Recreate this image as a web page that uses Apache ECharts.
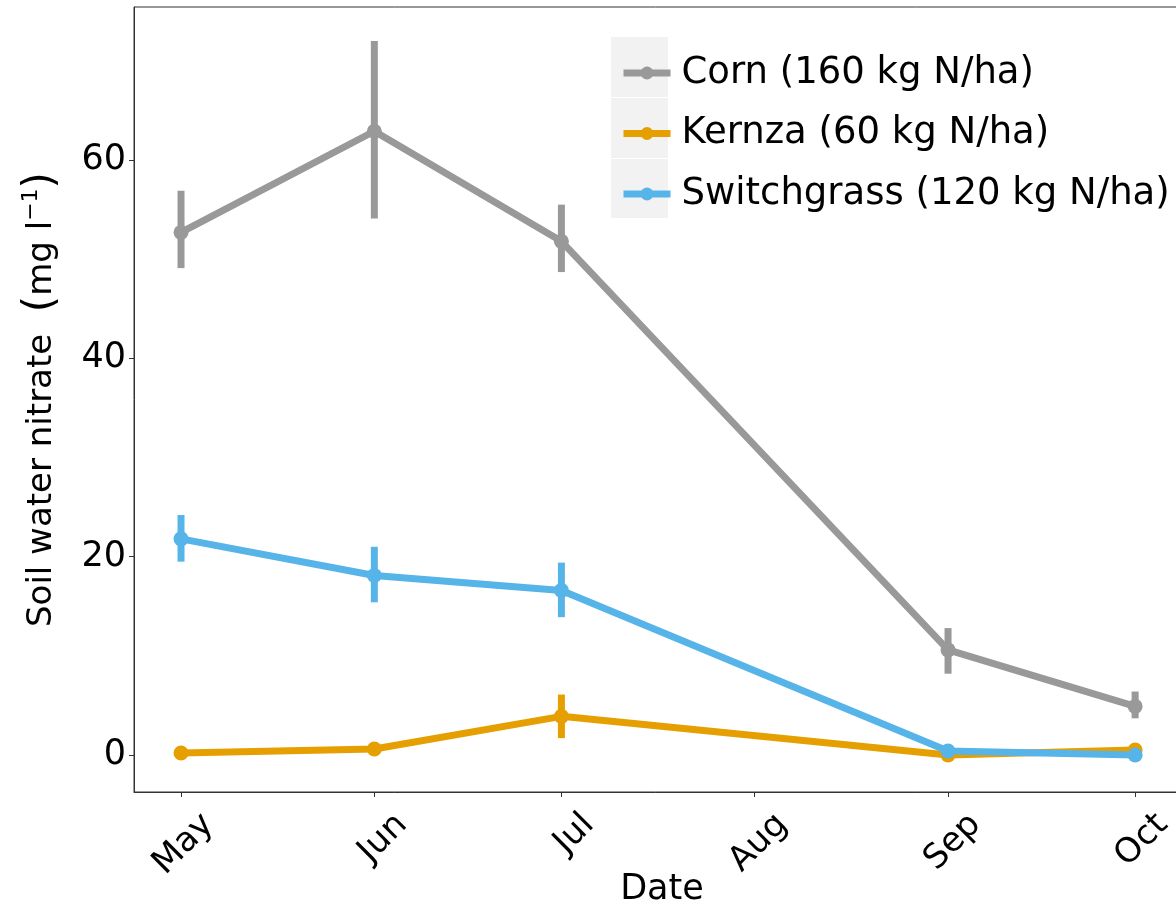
<!DOCTYPE html>
<html>
<head>
<meta charset="utf-8">
<script src="https://cdn.jsdelivr.net/npm/echarts@6/dist/echarts.min.js"></script>
<style>
  html, body { margin: 0; padding: 0; background: #fff; }
  #chart { width: 1176px; height: 911px; }
</style>
</head>
<body>
<div id="chart"></div>
<script>
// ---- data (day of year; 1st of each month) ----
const tickDays = [121, 152, 182, 213, 244, 274];
const tickLabels = ['May', 'Jun', 'Jul', 'Aug', 'Sep', 'Oct'];
const sampleDays = [121, 152, 182, 244, 274];
const yTicks = [0, 20, 40, 60];

const seriesNames = ['Corn (160 kg N/ha)', 'Kernza (60 kg N/ha)', 'Switchgrass (120 kg N/ha)'];

const cornMean = [52.7, 62.9, 51.8, 10.6, 4.9];
const cornLow  = [49.1, 54.1, 48.7, 8.2, 3.7];
const cornHigh = [56.9, 72.0, 55.5, 12.8, 6.4];

const kernzaMean = [0.2, 0.6, 3.9, 0.0, 0.5];
const kernzaLow  = [0.0, 0.3, 1.7, -0.2, 0.3];
const kernzaHigh = [0.4, 0.9, 6.1, 0.2, 0.7];

const switchMean = [21.8, 18.1, 16.6, 0.4, 0.0];
const switchLow  = [19.5, 15.4, 13.9, 0.2, -0.2];
const switchHigh = [24.2, 21.0, 19.4, 0.6, 0.2];

const colors = ['#999999', '#E69F00', '#56B4E9'];

const FONT = 'DejaVu Sans';

function lineSeries(name, mean, color) {
  return {
    name: name,
    type: 'line',
    data: sampleDays.map((d, i) => [d, mean[i]]),
    symbol: 'circle',
    symbolSize: 15,
    itemStyle: { color: color },
    lineStyle: { color: color, width: 7 },
    emphasis: { disabled: true },
    animation: false
  };
}

function errSeries(name, low, high, color) {
  return {
    name: name + ' SE',
    type: 'custom',
    data: sampleDays.map((d, i) => [d, low[i], high[i]]),
    encode: { x: 0, y: [1, 2] },
    renderItem: function (params, api) {
      const x = api.value(0);
      const p1 = api.coord([x, api.value(1)]);
      const p2 = api.coord([x, api.value(2)]);
      return {
        type: 'line',
        shape: { x1: p1[0], y1: p1[1], x2: p2[0], y2: p2[1] },
        style: { stroke: color, lineWidth: 7 }
      };
    },
    animation: false
  };
}

const chart = echarts.init(document.getElementById('chart'), null, { renderer: 'canvas' });

const option = {
  backgroundColor: '#ffffff',
  animation: false,
  textStyle: { fontFamily: FONT },
  grid: {
    left: 134, top: 7, right: -14, bottom: 119,
    containLabel: false,
    outerBoundsMode: 'none',
    show: true, borderColor: '#333333', borderWidth: 1, backgroundColor: 'transparent'
  },
  graphic: [
    { type: 'rect', shape: { x: 611, y: 37, width: 57, height: 60 }, style: { fill: '#f2f2f2' }, z: 1 },
    { type: 'rect', shape: { x: 611, y: 98, width: 57, height: 60 }, style: { fill: '#f2f2f2' }, z: 1 },
    { type: 'rect', shape: { x: 611, y: 159, width: 57, height: 59 }, style: { fill: '#f2f2f2' }, z: 1 }
  ],
  legend: {
    data: seriesNames,
    orient: 'vertical',
    left: 615,
    top: 47,
    itemWidth: 47,
    itemHeight: 16,
    itemGap: 18.5,
    selectedMode: false,
    lineStyle: { width: 7 },
    textStyle: { fontFamily: FONT, fontSize: 37, color: '#000', lineHeight: 42, padding: [0, 0, 0, 6] }
  },
  xAxis: {
    type: 'value',
    min: 113.46,
    max: 282.8,
    name: 'Date',
    nameLocation: 'middle',
    nameGap: 80,
    nameMoveOverlap: false,
    nameTextStyle: { fontFamily: FONT, fontSize: 35, color: '#000' },
    axisLine: { show: true, onZero: false, lineStyle: { color: '#333333', width: 1 } },
    axisTick: { show: true, length: 5, customValues: tickDays, lineStyle: { color: '#333333' } },
    axisLabel: {
      customValues: tickDays,
      formatter: function (v) { const i = tickDays.indexOf(v); return i >= 0 ? tickLabels[i] : ''; },
      rotate: 45,
      margin: 0,
      verticalAlign: 'top',
      lineHeight: 78,
      fontFamily: FONT,
      fontSize: 34,
      color: '#000'
    },
    splitLine: { show: false }
  },
  yAxis: {
    type: 'value',
    min: -3.73,
    max: 75.43,
    name: '{a|Soil water nitrate  }{p|(}{a|mg l}{s|−1}{p|)}',
    nameLocation: 'middle',
    nameGap: 70,
    nameRotate: 90,
    nameMoveOverlap: false,
    nameTextStyle: {
      fontFamily: FONT, color: '#000',
      rich: {
        a: { fontFamily: FONT, fontSize: 34, lineHeight: 44, color: '#000' },
        p: { fontFamily: FONT, fontSize: 42, lineHeight: 44, color: '#000' },
        s: { fontFamily: FONT, fontSize: 22, lineHeight: 22, verticalAlign: 'top', color: '#000' }
      }
    },
    axisLine: { show: true, onZero: false, lineStyle: { color: '#333333', width: 1 } },
    axisTick: { show: true, length: 5, customValues: yTicks, lineStyle: { color: '#333333' } },
    axisLabel: {
      customValues: yTicks,
      margin: 8,
      fontFamily: FONT,
      fontSize: 35,
      color: '#000'
    },
    splitLine: { show: false }
  },
  series: [
    errSeries(seriesNames[0], cornLow, cornHigh, colors[0]),
    lineSeries(seriesNames[0], cornMean, colors[0]),
    errSeries(seriesNames[1], kernzaLow, kernzaHigh, colors[1]),
    lineSeries(seriesNames[1], kernzaMean, colors[1]),
    errSeries(seriesNames[2], switchLow, switchHigh, colors[2]),
    lineSeries(seriesNames[2], switchMean, colors[2])
  ]
};

chart.setOption(option);
</script>
</body>
</html>
